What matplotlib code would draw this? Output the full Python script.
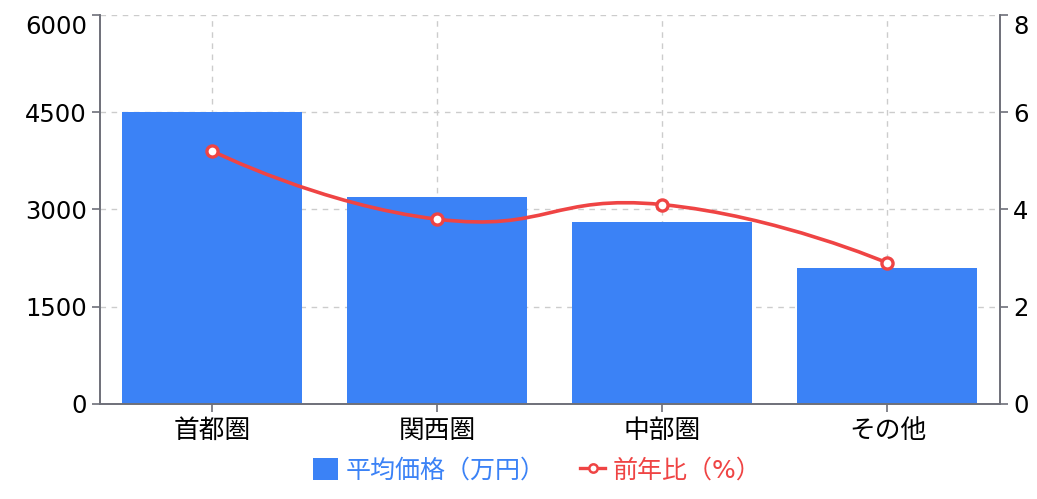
import matplotlib.pyplot as plt
import numpy as np
from matplotlib.path import Path
from matplotlib.patches import PathPatch
from matplotlib.lines import Line2D
from matplotlib.patches import Patch

plt.rcParams['font.family'] = ['DejaVu Sans', 'Noto Sans CJK JP']

regions = ['首都圏', '関西圏', '中部圏', 'その他']
avg_price = [4500, 3200, 2800, 2100]
yoy = [5.2, 3.8, 4.1, 2.9]

bar_color = '#3b82f6'
line_color = '#ef4444'
axis_color = '#6e7079'

fig = plt.figure(figsize=(10.37, 4.99), dpi=100)
ax = fig.add_axes([0.0964, 0.1904, 0.8679, 0.7796])
ax2 = ax.twinx()

x = np.arange(len(regions))
ax.bar(x, avg_price, width=0.8, color=bar_color, zorder=2)
ax.set_xlim(-0.5, len(regions) - 0.5)
ax.set_ylim(0, 6000)
ax.set_yticks([0, 1500, 3000, 4500, 6000])
ax.set_xticks(x)
ax.set_xticklabels(regions)
ax2.set_ylim(0, 8)
ax2.set_yticks([0, 2, 4, 6, 8])

ax.grid(True, color='#cccccc', linestyle=(0, (4, 4)), linewidth=1, zorder=0)
ax.set_axisbelow(True)

for a in (ax, ax2):
    for s in a.spines.values():
        s.set_color(axis_color)
        s.set_linewidth(1.2)
    a.spines['top'].set_visible(False)
    a.tick_params(colors=axis_color, labelcolor='black', labelsize=17.5, length=6, width=1.2)
ax.tick_params(axis='x', pad=4, labelsize=18.5)

# top tick labels sit inside the axis range, as in the source chart
ax.get_yticklabels()[-1].set_verticalalignment('top')
ax2.get_yticklabels()[-1].set_verticalalignment('top')

# smooth line (echarts-style bezier, smooth=0.5) computed in display space
fig.canvas.draw()
pts = ax2.transData.transform(np.column_stack([x, yoy]))
smooth = 0.5
verts = [pts[0]]
codes = [Path.MOVETO]
cp0 = pts[0]
n = len(pts)
for i in range(1, n):
    p = pts[i]
    prev = pts[i - 1]
    if i + 1 >= n:
        ncp0 = p
        v = np.zeros(2)
        ratio = 0.5
    else:
        nxt = pts[i + 1]
        v = nxt - prev
        lp = np.hypot(*(p - prev))
        ln = np.hypot(*(nxt - p))
        ratio = ln / (ln + lp)
        ncp0 = p - v * smooth * (1 - ratio)
    verts += [cp0, ncp0, p]
    codes += [Path.CURVE4] * 3
    cp0 = p + v * smooth * ratio
verts = ax2.transData.inverted().transform(np.array(verts))
ax2.add_patch(PathPatch(Path(verts, codes), facecolor='none', edgecolor=line_color,
                        linewidth=2.6, zorder=3))
ax2.plot(x, yoy, linestyle='none', marker='o', markersize=8, markerfacecolor='white',
         markeredgecolor=line_color, markeredgewidth=2.4, zorder=4)

handles = [Patch(facecolor=bar_color, edgecolor='none'),
           Line2D([0], [0], color=line_color, linewidth=2.4, marker='o', markersize=6,
                  markerfacecolor='white', markeredgecolor=line_color, markeredgewidth=1.8)]
leg = fig.legend(handles, ['平均価格（万円）', '前年比（%）'], loc='center',
                 bbox_to_anchor=(0.518, 0.058), ncol=2, frameon=False, fontsize=18,
                 handlelength=1.0, handleheight=1.0, handletextpad=0.3, columnspacing=1.4)
for t, c in zip(leg.get_texts(), [bar_color, line_color]):
    t.set_color(c)

fig.savefig('out.png', dpi=100)
